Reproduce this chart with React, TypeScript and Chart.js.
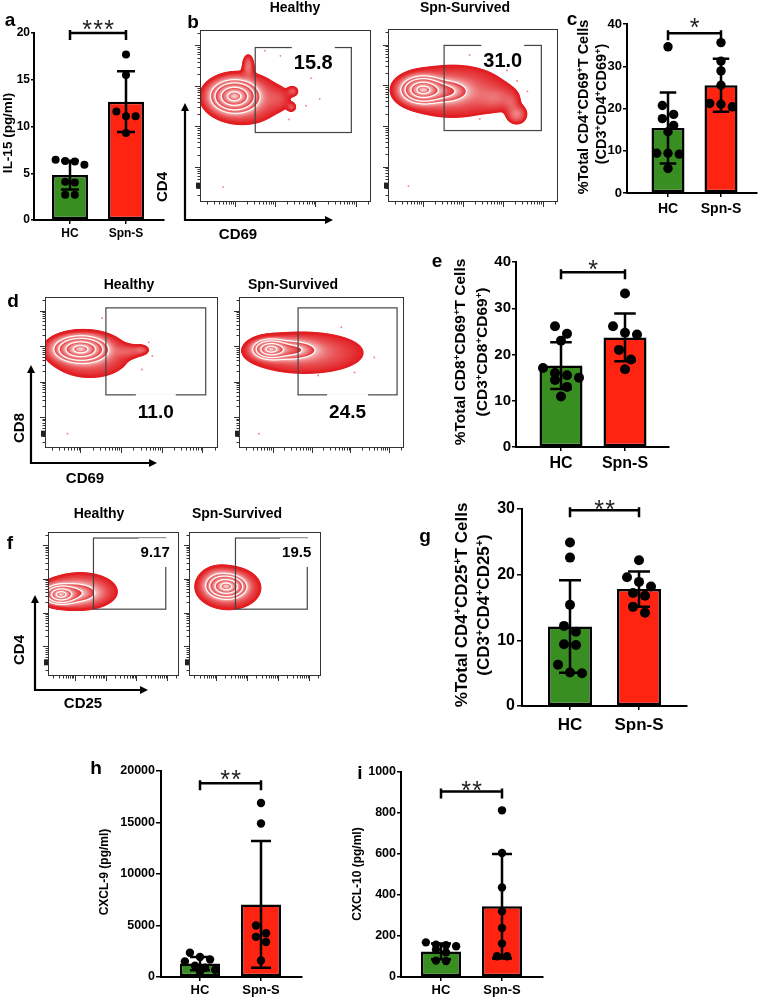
import React, { useEffect, useRef } from 'react';
import { Chart, registerables } from 'chart.js';

Chart.register(...registerables);

const FONT = 'Arial, "Liberation Sans", Helvetica, sans-serif';
const GREEN = '#388e20';
const RED = '#ff2412';

const groups = ['HC', 'Spn-S'];

// (a) serum IL-15, pg/ml
const il15HC = [6.45, 6.3, 6.25, 5.9, 4.1, 4.0, 2.7, 2.7];
const il15Spn = [17.7, 15.5, 11.6, 11.1, 11.1, 9.3];
const il15Mean = [4.8, 12.65];
const il15Sd = [1.55, 3.25];

// (c) CD4+CD69+ T cells, % of CD3+CD4+
const cd4cd69HC = [34.6, 20.7, 18.6, 17.6, 16.0, 14.5, 9.4, 9.4, 9.2, 5.8];
const cd4cd69Spn = [35.6, 31.2, 28.9, 25.5, 21.2, 21.0, 20.4];
const cd4cd69Mean = [15.4, 25.5];
const cd4cd69Sd = [8.4, 6.25];

// (e) CD8+CD69+ T cells, % of CD3+CD8+
const cd8cd69HC = [26.1, 24.5, 23.0, 17.1, 16.0, 15.5, 15.0, 14.5, 13.0, 10.9];
const cd8cd69Spn = [33.2, 26.1, 24.7, 24.3, 21.0, 18.9, 16.8];
const cd8cd69Mean = [17.6, 23.7];
const cd8cd69Sd = [5.05, 5.15];

// (g) CD4+CD25+ T cells, % of CD3+CD4+
const cd4cd25HC = [24.9, 22.6, 15.4, 12.2, 11.3, 9.4, 9.3, 6.3, 5.1, 5.0];
const cd4cd25Spn = [22.2, 19.6, 18.9, 18.2, 17.2, 16.8, 15.1, 14.2];
const cd4cd25Mean = [12.1, 17.8];
const cd4cd25Sd = [7.05, 2.7];

// (h) serum CXCL-9, pg/ml
const cxcl9HC = [2350, 1950, 1700, 1500, 1100, 900, 700, 500];
const cxcl9Spn = [16900, 14900, 5000, 4250, 3900, 3400, 1600];
const cxcl9Mean = [1300, 7050];
const cxcl9Sd = [650, 6150];

// (i) serum CXCL-10, pg/ml
const cxcl10HC = [169, 158, 155, 150, 133, 120, 80, 78];
const cxcl10Spn = [813, 605, 437, 320, 239, 163, 101, 101];
const cxcl10Mean = [125, 345];
const cxcl10Sd = [38, 255];

// significance brackets: label and the value the bracket sits at
const sigLabels = ['***', '*', '*', '**', '**', '**'];
const sigHeights = [20, 37.8, 37.8, 29.8, 18800, 905];

// flow cytometry: population components [centre x, centre y, sd x, sd y, weight] on a 0-1000 channel scale
const cd69Cd4Healthy = [[200, 615, 63, 43, 1], [255, 600, 118, 79, 0.07], [282, 790, 18, 38, 0.05], [542, 644, 18, 16, 0.035], [535, 552, 15, 15, 0.03], [460, 600, 45, 40, 0.02]];
const cd69Cd4Survived = [[202, 649, 58, 36, 1], [330, 640, 75, 35, 0.25], [380, 640, 180, 85, 0.06], [640, 600, 70, 40, 0.035], [757, 506, 32, 30, 0.06], [725, 570, 25, 30, 0.025]];
const cd69Cd8Healthy = [[205, 655, 70, 40, 1], [260, 615, 125, 82, 0.06], [480, 640, 50, 25, 0.03], [555, 650, 25, 18, 0.035]];
const cd69Cd8Survived = [[190, 655, 48, 30, 1], [300, 650, 90, 35, 0.3], [400, 630, 205, 78, 0.06]];
const cd25Cd4Healthy = [[95, 565, 55, 30, 1], [180, 575, 110, 40, 0.25], [250, 590, 150, 70, 0.07]];
const cd25Cd4Survived = [[284, 621, 67, 38, 1], [300, 610, 130, 80, 0.07], [220, 660, 60, 45, 0.08]];

// scattered single events outside the dense populations
const cd69Cd4HealthyEvents = [[560, 800], [620, 560], [700, 600], [470, 850], [520, 480], [650, 720], [380, 880], [135, 87]];
const cd69Cd4SurvivedEvents = [[600, 820], [700, 760], [540, 480], [820, 640], [480, 850], [760, 700], [120, 92]];
const cd69Cd8HealthyEvents = [[620, 610], [600, 700], [560, 520], [330, 860], [130, 95]];
const cd69Cd8SurvivedEvents = [[620, 800], [700, 500], [820, 600], [480, 480], [120, 95]];
const cd25Cd4HealthyEvents: number[][] = [];
const cd25Cd4SurvivedEvents: number[][] = [];

// gates [x from, x to, y from, y to] and the % of events inside them
const cd69Cd4HealthyGate = [323, 885, 404, 898];
const cd69Cd4SurvivedGate = [330, 902, 413, 905];
const cd69Cd8HealthyGate = [352, 929, 352, 928];
const cd69Cd8SurvivedGate = [358, 958, 352, 928];
const cd25Cd4HealthyGate = [347, 899, 464, 958];
const cd25Cd4SurvivedGate = [352, 896, 464, 958];
const gateStats = ['15.8', '31.0', '11.0', '24.5', '9.17', '19.5'];

// density levels at which contours are drawn (fraction of the peak)
const contourLevels = [0.012, 0.1, 0.22, 0.5, 0.85];
// logicle-style decade positions on the channel scale
const decadeStarts = [205, 440, 675, 910];
const decadeSpan = 235;

type Area = { l: number; t: number; r: number; b: number };

interface BarSpec {
  hc: number[]; spn: number[]; means: number[]; sds: number[];
  yMax: number; yStep: number; sig: string; sigAt: number;
  area: Area; centers: number[]; barW: number; dot: number;
  tickSize: number; catSize: number; tickLen: number; tickPad: number; catPad: number;
  dotted: boolean; starGap: number;
}

function BarPanel({ s }: { s: BarSpec }) {
  const ref = useRef<HTMLCanvasElement>(null);
  const padL = 70, padT = 34, padR = 6, padB = 40;
  const W = s.area.r - s.area.l + padL + padR;
  const H = s.area.b - s.area.t + padT + padB;
  useEffect(() => {
    const step = s.centers[1] - s.centers[0];
    const xMin = 1 - (s.centers[0] - s.area.l) / step;
    const xMax = 2 + (s.area.r - s.centers[1]) / step;
    const marks = {
      id: 'marks',
      afterDatasetsDraw(chart: any) {
        const { ctx } = chart;
        const x = chart.scales.x, y = chart.scales.y;
        ctx.save();
        ctx.strokeStyle = '#000';
        ctx.fillStyle = '#000';
        const half = s.barW * 0.25;
        // mean ± SD
        s.means.forEach((m, i) => {
          const cx = x.getPixelForValue(i + 1);
          const yt = y.getPixelForValue(m + s.sds[i]);
          const yb = y.getPixelForValue(Math.max(0, m - s.sds[i]));
          ctx.lineWidth = 2.5;
          ctx.beginPath();
          ctx.moveTo(cx, yt); ctx.lineTo(cx, yb);
          ctx.moveTo(cx - half, yt); ctx.lineTo(cx + half, yt);
          ctx.moveTo(cx - half, yb); ctx.lineTo(cx + half, yb);
          ctx.stroke();
        });
        // individual subjects, spread sideways where values overlap
        const d = s.dot * 2;
        const slot = d * 1.2;
        const perRow = Math.floor(s.barW / slot) + 1;
        [s.hc, s.spn].forEach((vals, gi) => {
          const cx = x.getPixelForValue(gi + 1);
          const pts = vals.map((v) => y.getPixelForValue(v)).sort((a: number, b: number) => a - b);
          const rows: number[][] = [];
          pts.forEach((py: number) => {
            const row = rows[rows.length - 1];
            if (row && row.length < perRow && py - row[0] < d) row.push(py); else rows.push([py]);
          });
          rows.forEach((row) => row.forEach((py, k) => {
            const px = cx + (k - (row.length - 1) / 2) * slot;
            ctx.beginPath();
            ctx.arc(px, py, s.dot, 0, Math.PI * 2);
            ctx.fill();
          }));
        });
        // significance bracket
        const by = y.getPixelForValue(s.sigAt);
        const x1 = x.getPixelForValue(1), x2 = x.getPixelForValue(2);
        ctx.lineWidth = 2.5;
        ctx.beginPath();
        ctx.moveTo(x1, by - 3); ctx.lineTo(x1, by + 7);
        ctx.moveTo(x1, by); ctx.lineTo(x2, by);
        ctx.moveTo(x2, by - 3); ctx.lineTo(x2, by + 7);
        ctx.stroke();
        const fs = 25;
        ctx.font = `${fs}px ${FONT}`;
        ctx.textAlign = 'center';
        ctx.textBaseline = 'alphabetic';
        ctx.fillStyle = '#222';
        const n = s.sig.length;
        for (let k = 0; k < n; k++) {
          ctx.fillText('*', (x1 + x2) / 2 + (k - (n - 1) / 2) * 11, by - s.starGap + fs * 0.575);
        }
        ctx.restore();
      },
    };
    const chart = new Chart(ref.current as HTMLCanvasElement, {
      type: 'bar',
      data: {
        datasets: [{
          data: s.means.map((m, i) => ({ x: i + 1, y: m })),
          backgroundColor: [GREEN, RED],
          borderColor: '#000',
          borderWidth: 2.5,
          borderSkipped: false,
          barPercentage: s.barW / step,
          categoryPercentage: 1,
        }],
      } as any,
      options: {
        responsive: false,
        animation: false,
        events: [],
        layout: { padding: { left: 0, top: padT, right: padR, bottom: 0 } },
        plugins: { legend: { display: false }, tooltip: { enabled: false } },
        scales: {
          x: {
            type: 'linear', min: xMin, max: xMax, offset: false,
            afterFit: (sc: any) => { sc.height = padB; },
            afterBuildTicks: (sc: any) => { sc.ticks = [{ value: 1 }, { value: 2 }]; },
            ticks: {
              callback: (v: any) => groups[v - 1] ?? '',
              font: { family: FONT, size: s.catSize, weight: 'bold' },
              color: '#000', padding: s.catPad, maxRotation: 0, autoSkip: false,
            },
            grid: { display: true, offset: false, drawOnChartArea: false, drawTicks: true, tickLength: 4, color: '#000', lineWidth: 1.5 },
            border: { display: true, color: '#000', width: 2, dash: s.dotted ? [2, 2] : [] },
          },
          y: {
            type: 'linear', min: 0, max: s.yMax,
            afterFit: (sc: any) => { sc.width = padL; },
            ticks: {
              stepSize: s.yStep,
              callback: (v: any) => String(v),
              font: { family: FONT, size: s.tickSize, weight: 'bold' },
              color: '#000', padding: s.tickPad,
            },
            grid: { display: true, drawOnChartArea: false, drawTicks: true, tickLength: s.tickLen, color: '#000', lineWidth: 1.5 },
            border: { display: true, color: '#000', width: 2 },
          },
        },
      } as any,
      plugins: [marks as any],
    });
    return () => chart.destroy();
  }, []);
  return (
    <canvas ref={ref} width={W} height={H}
      style={{ position: 'absolute', left: s.area.l - padL, top: s.area.t - padT, width: W, height: H }} />
  );
}

interface FlowSpec {
  area: Area; comps: number[][]; gate: number[]; events: number[][];
  label: string; labelSize: number; labelMode: 'top' | 'bottom' | 'topRight';
}

const PALE = [250, 228, 228];
const DEEP = [226, 30, 34];

function FlowPlot({ s }: { s: FlowSpec }) {
  const ref = useRef<HTMLCanvasElement>(null);
  const W = s.area.r - s.area.l + 12;
  const H = s.area.b - s.area.t + 12;
  useEffect(() => {
    const clamp = (v: number) => (v < 0 ? 0 : v > 1 ? 1 : v);
    const flow = {
      id: 'flow',
      beforeDatasetsDraw(chart: any) {
        const { ctx, chartArea: a } = chart;
        const x = chart.scales.x, y = chart.scales.y;
        const w = Math.round(a.right - a.left), h = Math.round(a.bottom - a.top);
        const xs = new Float64Array(w), ys = new Float64Array(h);
        for (let i = 0; i < w; i++) xs[i] = x.getValueForPixel(a.left + i + 0.5);
        for (let j = 0; j < h; j++) ys[j] = y.getValueForPixel(a.top + j + 0.5);
        const D = new Float64Array(w * h);
        let mx = 0;
        for (let j = 0; j < h; j++) {
          for (let i = 0; i < w; i++) {
            let d = 0;
            for (const [cx, cy, sx, sy, wt] of s.comps) {
              const u = (xs[i] - cx) / sx, v = (ys[j] - cy) / sy;
              d += wt * Math.exp(-0.5 * (u * u + v * v));
            }
            D[j * w + i] = d;
            if (d > mx) mx = d;
          }
        }
        const L = contourLevels;
        const img = new ImageData(w, h);
        for (let j = 0; j < h; j++) {
          for (let i = 0; i < w; i++) {
            const k0 = j * w + i;
            const n = D[k0] / mx;
            const gx = (D[j * w + Math.min(i + 1, w - 1)] - D[j * w + Math.max(i - 1, 0)]) / 2 / mx;
            const gy = (D[Math.min(j + 1, h - 1) * w + i] - D[Math.max(j - 1, 0) * w + i]) / 2 / mx;
            const g = Math.max(Math.hypot(gx, gy), 1e-9);
            const sd0 = (n - L[0]) / g;
            if (sd0 < -1.6) continue;
            let c = DEEP.slice();
            if (n >= L[0]) {
              let k = 0;
              while (k + 1 < L.length && n >= L[k + 1]) k++;
              const hi = k + 1 < L.length ? L[k + 1] : 1;
              const t = Math.min(1, (n - L[k]) / (hi - L[k]));
              const m = 0.88 * Math.pow(t, 0.85);
              c = DEEP.map((v, q) => v + (PALE[q] - v) * m);
            }
            const edge = clamp(1.9 - sd0);
            c = c.map((v, q) => v + (DEEP[q] - v) * edge);
            for (let k = 1; k < L.length; k++) {
              const sdk = Math.abs(n - L[k]) / g;
              const wc = clamp(1.15 - sdk) * 0.95;
              if (wc > 0) c = c.map((v) => v + (255 - v) * wc);
            }
            const p = k0 * 4;
            img.data[p] = c[0]; img.data[p + 1] = c[1]; img.data[p + 2] = c[2];
            img.data[p + 3] = Math.round(255 * clamp(sd0 + 1.6));
          }
        }
        const off = document.createElement('canvas');
        off.width = w; off.height = h;
        (off.getContext('2d') as CanvasRenderingContext2D).putImageData(img, 0, 0);
        ctx.drawImage(off, a.left, a.top);
      },
      afterDatasetsDraw(chart: any) {
        const { ctx, chartArea: a } = chart;
        const x = chart.scales.x, y = chart.scales.y;
        ctx.save();
        ctx.strokeStyle = '#333';
        ctx.lineWidth = 1;
        ctx.strokeRect(a.left + 0.5, a.top + 0.5, a.right - a.left - 1, a.bottom - a.top - 1);
        // axis ticks
        const ticks: [number, number][] = [];
        decadeStarts.forEach((d0) => ticks.push([d0, 5]));
        [decadeStarts[0] - decadeSpan, ...decadeStarts].forEach((d0) => {
          for (let k = 2; k <= 9; k++) {
            const v = d0 + Math.log10(k) * decadeSpan;
            if (v > 0 && v < 1000) ticks.push([v, 2.5]);
          }
        });
        ctx.beginPath();
        ticks.forEach(([v, len]) => {
          const py = Math.round(y.getPixelForValue(v)) + 0.5;
          ctx.moveTo(a.left, py); ctx.lineTo(a.left - len, py);
          const px = Math.round(x.getPixelForValue(v)) + 0.5;
          ctx.moveTo(px, a.bottom); ctx.lineTo(px, a.bottom + len);
        });
        ctx.stroke();
        ctx.fillStyle = '#222';
        const zy = y.getPixelForValue(95);
        ctx.fillRect(a.left - 4, zy - 3, 4, 6);
        // gate
        const gx0 = x.getPixelForValue(s.gate[0]), gx1 = x.getPixelForValue(s.gate[1]);
        const gyb = y.getPixelForValue(s.gate[2]), gyt = y.getPixelForValue(s.gate[3]);
        ctx.strokeStyle = '#444';
        ctx.lineWidth = 1.2;
        ctx.strokeRect(gx0, gyt, gx1 - gx0, gyb - gyt);
        // gate frequency
        ctx.font = `bold ${s.labelSize}px ${FONT}`;
        const tw = ctx.measureText(s.label).width;
        const capH = s.labelSize * 0.716;
        let cx = (gx0 + gx1) / 2, cy = gyt + 14, padTop = 9, padBot = 2;
        if (s.labelMode === 'top') { cx += 10; }
        if (s.labelMode === 'bottom') { cy = gyb + 16; padTop = 10; }
        if (s.labelMode === 'topRight') { cx = gx1 + 4 - tw / 2; cy = gyt + 13.5; padTop = 8; padBot = 10; }
        ctx.fillStyle = '#fff';
        ctx.fillRect(cx - tw / 2 - 2, cy - capH / 2 - padTop, tw + 4, capH + padTop + padBot);
        ctx.fillStyle = '#000';
        ctx.textAlign = 'center';
        ctx.textBaseline = 'alphabetic';
        ctx.fillText(s.label, cx, cy + capH / 2);
        ctx.restore();
      },
    };
    const chart = new Chart(ref.current as HTMLCanvasElement, {
      type: 'scatter',
      data: {
        datasets: [{
          data: s.events.map(([ex, ey]) => ({ x: ex, y: ey })),
          pointRadius: 0.9,
          backgroundColor: 'rgba(225,40,40,0.6)',
          borderWidth: 0,
        }],
      },
      options: {
        responsive: false,
        animation: false,
        events: [],
        layout: { padding: { left: 10, top: 2, right: 2, bottom: 10 } },
        plugins: { legend: { display: false }, tooltip: { enabled: false } },
        scales: {
          x: { type: 'linear', min: 0, max: 1000, display: false },
          y: { type: 'linear', min: 0, max: 1000, display: false },
        },
      } as any,
      plugins: [flow as any],
    });
    return () => chart.destroy();
  }, []);
  return (
    <canvas ref={ref} width={W} height={H}
      style={{ position: 'absolute', left: s.area.l - 10, top: s.area.t - 2, width: W, height: H }} />
  );
}

function Txt({ x, y, size, rot = false, bold = true, children }: any) {
  return (
    <div style={{
      position: 'absolute', left: x, top: y,
      transform: `translate(-50%,-50%)${rot ? ' rotate(-90deg)' : ''}`,
      font: `${bold ? 'bold ' : ''}${size}px ${FONT}`, whiteSpace: 'nowrap', lineHeight: 1, color: '#000',
    }}>{children}</div>
  );
}

// renders '⁺' as a small raised plus sign
function Sup({ text }: { text: string }) {
  const parts = text.split('⁺');
  return (
    <>
      {parts.map((p, i) => (
        <React.Fragment key={i}>
          {p}
          {i < parts.length - 1 && <span style={{ fontSize: '0.62em', verticalAlign: '0.55em', lineHeight: 0 }}>+</span>}
        </React.Fragment>
      ))}
    </>
  );
}

const titleC = ['%Total CD4⁺CD69⁺T Cells', '(CD3⁺CD4⁺CD69⁺)'];
const titleE = ['%Total CD8⁺CD69⁺T Cells', '(CD3⁺CD8⁺CD69⁺)'];
const titleG = ['%Total CD4⁺CD25⁺T Cells', '(CD3⁺CD4⁺CD25⁺)'];

const base = { tickLen: 4, tickPad: 1, catPad: 3, starGap: 9 };

const barA: BarSpec = { ...base, hc: il15HC, spn: il15Spn, means: il15Mean, sds: il15Sd, yMax: 20, yStep: 5, sig: sigLabels[0], sigAt: sigHeights[0], area: { l: 34, t: 33, r: 164, b: 220 }, centers: [70, 126], barW: 36, dot: 4, tickSize: 12, catSize: 12, tickLen: 3, tickPad: 1, catPad: 2, dotted: false, starGap: 9 };
const barC: BarSpec = { ...base, hc: cd4cd69HC, spn: cd4cd69Spn, means: cd4cd69Mean, sds: cd4cd69Sd, yMax: 40, yStep: 10, sig: sigLabels[1], sigAt: sigHeights[1], area: { l: 627, t: 24, r: 757, b: 193 }, centers: [668, 721], barW: 33, dot: 4.7, tickSize: 13, catSize: 14, catPad: 4, dotted: true, starGap: 12 };
const barE: BarSpec = { ...base, hc: cd8cd69HC, spn: cd8cd69Spn, means: cd8cd69Mean, sds: cd8cd69Sd, yMax: 40, yStep: 10, sig: sigLabels[2], sigAt: sigHeights[2], area: { l: 516, t: 262, r: 669, b: 447 }, centers: [561, 625], barW: 43, dot: 5, tickSize: 15, catSize: 16, catPad: 3, dotted: true, starGap: 9 };
const barG: BarSpec = { ...base, hc: cd4cd25HC, spn: cd4cd25Spn, means: cd4cd25Mean, sds: cd4cd25Sd, yMax: 30, yStep: 10, sig: sigLabels[3], sigAt: sigHeights[3], area: { l: 522, t: 509, r: 687, b: 706 }, centers: [570, 639], barW: 44, dot: 5, tickSize: 16, catSize: 17, tickLen: 5, tickPad: 2, catPad: 5, dotted: true, starGap: 7 };
const barH: BarSpec = { ...base, hc: cxcl9HC, spn: cxcl9Spn, means: cxcl9Mean, sds: cxcl9Sd, yMax: 20000, yStep: 5000, sig: sigLabels[4], sigAt: sigHeights[4], area: { l: 161, t: 771, r: 302, b: 977 }, centers: [200, 261], barW: 40, dot: 4.2, tickSize: 12.5, catSize: 13, tickLen: 5, catPad: 2, dotted: false, starGap: 10 };
const barI: BarSpec = { ...base, hc: cxcl10HC, spn: cxcl10Spn, means: cxcl10Mean, sds: cxcl10Sd, yMax: 1000, yStep: 200, sig: sigLabels[5], sigAt: sigHeights[5], area: { l: 401, t: 772, r: 543, b: 977 }, centers: [441, 502], barW: 40, dot: 4.2, tickSize: 12.5, catSize: 13, catPad: 2, dotted: false, starGap: 7 };

const flows: FlowSpec[] = [
  { area: { l: 200, t: 28, r: 373, b: 202 }, comps: cd69Cd4Healthy, gate: cd69Cd4HealthyGate, events: cd69Cd4HealthyEvents, label: gateStats[0], labelSize: 20, labelMode: 'top' },
  { area: { l: 388, t: 27, r: 560, b: 202 }, comps: cd69Cd4Survived, gate: cd69Cd4SurvivedGate, events: cd69Cd4SurvivedEvents, label: gateStats[1], labelSize: 20, labelMode: 'top' },
  { area: { l: 45, t: 295, r: 220, b: 448 }, comps: cd69Cd8Healthy, gate: cd69Cd8HealthyGate, events: cd69Cd8HealthyEvents, label: gateStats[2], labelSize: 19, labelMode: 'bottom' },
  { area: { l: 239, t: 295, r: 406, b: 448 }, comps: cd69Cd8Survived, gate: cd69Cd8SurvivedGate, events: cd69Cd8SurvivedEvents, label: gateStats[3], labelSize: 19, labelMode: 'bottom' },
  { area: { l: 48, t: 532, r: 179, b: 676 }, comps: cd25Cd4Healthy, gate: cd25Cd4HealthyGate, events: cd25Cd4HealthyEvents, label: gateStats[4], labelSize: 15, labelMode: 'topRight' },
  { area: { l: 189, t: 532, r: 321, b: 676 }, comps: cd25Cd4Survived, gate: cd25Cd4SurvivedGate, events: cd25Cd4SurvivedEvents, label: gateStats[5], labelSize: 15, labelMode: 'topRight' },
];

function Arrows() {
  const sets = [
    { x: 185, y: 220, top: 103, right: 333 },
    { x: 31, y: 463, top: 365, right: 157 },
    { x: 35, y: 690, top: 595, right: 148 },
  ];
  return (
    <svg width={758} height={999} style={{ position: 'absolute', left: 0, top: 0 }}>
      {sets.map((a, i) => (
        <g key={i}>
          <polyline points={`${a.x},${a.top + 6} ${a.x},${a.y} ${a.right - 6},${a.y}`} fill="none" stroke="#000" strokeWidth={2.2} />
          <polygon points={`${a.x - 4},${a.top + 8} ${a.x + 4},${a.top + 8} ${a.x},${a.top}`} fill="#000" />
          <polygon points={`${a.right - 8},${a.y - 4} ${a.right - 8},${a.y + 4} ${a.right},${a.y}`} fill="#000" />
        </g>
      ))}
    </svg>
  );
}

export default function App() {
  return (
    <div style={{ position: 'absolute', left: 0, top: 0, width: 758, height: 999, overflow: 'hidden', background: '#fff', fontFamily: FONT }}>
      {flows.map((f, i) => <FlowPlot key={i} s={f} />)}
      <BarPanel s={barA} />
      <BarPanel s={barC} />
      <BarPanel s={barE} />
      <BarPanel s={barG} />
      <BarPanel s={barH} />
      <BarPanel s={barI} />
      <Arrows />

      {/* panel letters */}
      <Txt x={10} y={19} size={19}>a</Txt>
      <Txt x={193} y={21} size={19}>b</Txt>
      <Txt x={572} y={18} size={19}>c</Txt>
      <Txt x={13} y={300} size={19}>d</Txt>
      <Txt x={437} y={260} size={19}>e</Txt>
      <Txt x={10} y={542} size={19}>f</Txt>
      <Txt x={425} y={535} size={19}>g</Txt>
      <Txt x={96} y={767} size={19}>h</Txt>
      <Txt x={360} y={772} size={19}>i</Txt>

      {/* flow plot headings and axis names */}
      <Txt x={295} y={7} size={14}>Healthy</Txt>
      <Txt x={465} y={7} size={14}>Spn-Survived</Txt>
      <Txt x={129} y={284} size={14}>Healthy</Txt>
      <Txt x={293} y={284} size={14}>Spn-Survived</Txt>
      <Txt x={99} y={513} size={14}>Healthy</Txt>
      <Txt x={237} y={513} size={14}>Spn-Survived</Txt>
      <Txt x={161} y={187} size={15} rot>CD4</Txt>
      <Txt x={238} y={233} size={15}>CD69</Txt>
      <Txt x={18} y={428} size={15} rot>CD8</Txt>
      <Txt x={85} y={477} size={15}>CD69</Txt>
      <Txt x={18} y={650} size={15} rot>CD4</Txt>
      <Txt x={83} y={702} size={15}>CD25</Txt>

      {/* bar chart axis titles */}
      <Txt x={8} y={133} size={13.5} rot>IL-15 (pg/ml)</Txt>
      <Txt x={583} y={107} size={14.5} rot><Sup text={titleC[0]} /></Txt>
      <Txt x={601} y={104} size={14.5} rot><Sup text={titleC[1]} /></Txt>
      <Txt x={460} y={352} size={15.5} rot><Sup text={titleE[0]} /></Txt>
      <Txt x={482} y={352} size={15.5} rot><Sup text={titleE[1]} /></Txt>
      <Txt x={461} y={605} size={17} rot><Sup text={titleG[0]} /></Txt>
      <Txt x={483} y={605} size={17} rot><Sup text={titleG[1]} /></Txt>
      <Txt x={104} y={872} size={12} rot>CXCL-9 (pg/ml)</Txt>
      <Txt x={357} y={874} size={12} rot>CXCL-10 (pg/ml)</Txt>
    </div>
  );
}
